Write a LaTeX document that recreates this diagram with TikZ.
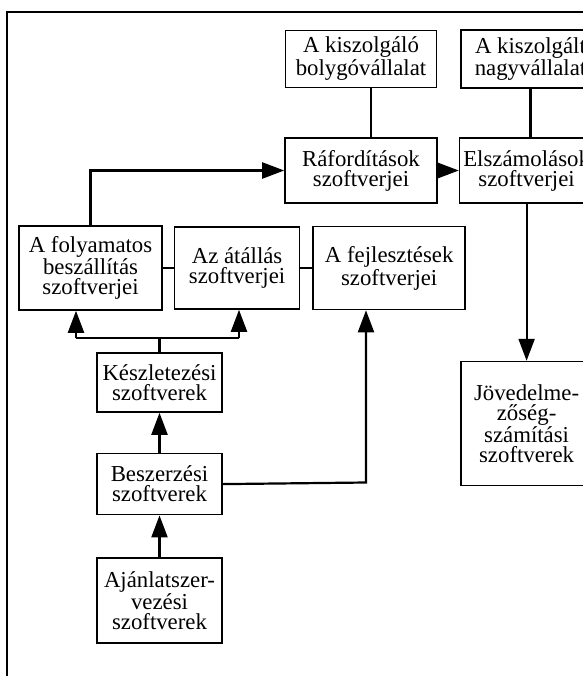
\documentclass[tikz,border=0pt]{standalone}
\usepackage{fontspec}
\setmainfont{Liberation Serif}
\usetikzlibrary{arrows.meta, positioning}

\begin{document}
\begin{tikzpicture}[
    x=0.5pt, y=-0.5pt,
    box/.style={rectangle, draw, line width=0.8pt, align=center, inner sep=0pt, font=\fontsize{11.4}{10}\selectfont},
    line/.style={line width=1.1pt},
    arrow/.style={-{Triangle[length=11pt, width=8pt]}, line width=1.1pt}
]
\path[use as bounding box] (0,0) rectangle (583,676);
\clip (0,0) rectangle (583,676);
\draw[line width=0.8pt] (7,12) rectangle (640,720);

\node[box, minimum width=76pt, minimum height=32.5pt] (raf) at (361,170.5) {Ráfordítások\\szoftverjei};
\node[box, minimum width=75.5pt, minimum height=28.5pt, above=24.5pt of raf] (bolygo) {A kiszolgáló\\bolygóvállalat};
\node[box, minimum width=67pt, minimum height=32.5pt, right=10.5pt of raf] (elsz) {Elszámolások\\szoftverjei};
\node[box, minimum width=69.5pt, minimum height=29pt] (nagy) at (530.5,59) {A kiszolgált\\nagyvállalat};
\node[box, minimum width=65.5pt, minimum height=62pt, below=78.5pt of elsz] (jov) {Jövedelme-\\zőség-\\számítási\\szoftverek};

\node[box, minimum width=71.5pt, minimum height=42pt] (foly) at (90.5,268) {A folyamatos\\beszállítás\\szoftverjei};
\node[box, minimum width=62.5pt, minimum height=41pt, right=5.5pt of foly] (atall) {Az átállás\\szoftverjei};
\node[box, minimum width=76pt, minimum height=41.5pt, right=6pt of atall] (fejl) {A fejlesztések\\szoftverjei};

\node[box, minimum width=62.5pt, minimum height=29.5pt] (kesz) at (159.5,382.5) {Készletezési\\szoftverek};
\node[box, minimum width=62.5pt, minimum height=30.5pt, below=20pt of kesz] (besz) {Beszerzési\\szoftverek};
\node[box, minimum width=62.5pt, minimum height=42.5pt, below=21pt of besz] (ajanl) {Ajánlatszer-\\vezési\\szoftverek};

% top links
\draw[line] ([xshift=5pt]bolygo.south) -- ([xshift=5pt]bolygo.south |- raf.north);
\draw[line] (nagy.south) -- (nagy.south |- elsz.north);
\draw[arrow] (raf.east) -- (raf.east -| elsz.west);
\draw[arrow] (elsz.south) -- (elsz.south |- jov.north);
\draw[arrow] (foly.north) -- (foly.north |- raf.west) -- (raf.west);

\draw[line] (foly.east) -- (atall.west);
\draw[line] (atall.east) -- (fejl.west);

% fork under the middle row
\coordinate (fl) at (76,338);
\coordinate (fr) at (239,338);
\draw[line] (fl) -- (fr);
\draw[line] (kesz.north) -- (kesz.north |- fl);
\draw[arrow] (fl) -- (fl |- foly.south);
\draw[arrow] (fr) -- (fr |- atall.south);

\draw[arrow] (besz.north) -- (kesz.south);
\draw[arrow] (ajanl.north) -- (besz.south);
\coordinate (fx) at (366,482.5);
\draw[arrow] (besz.east) -- (fx) -- (fx |- fejl.south);

\end{tikzpicture}
\end{document}
